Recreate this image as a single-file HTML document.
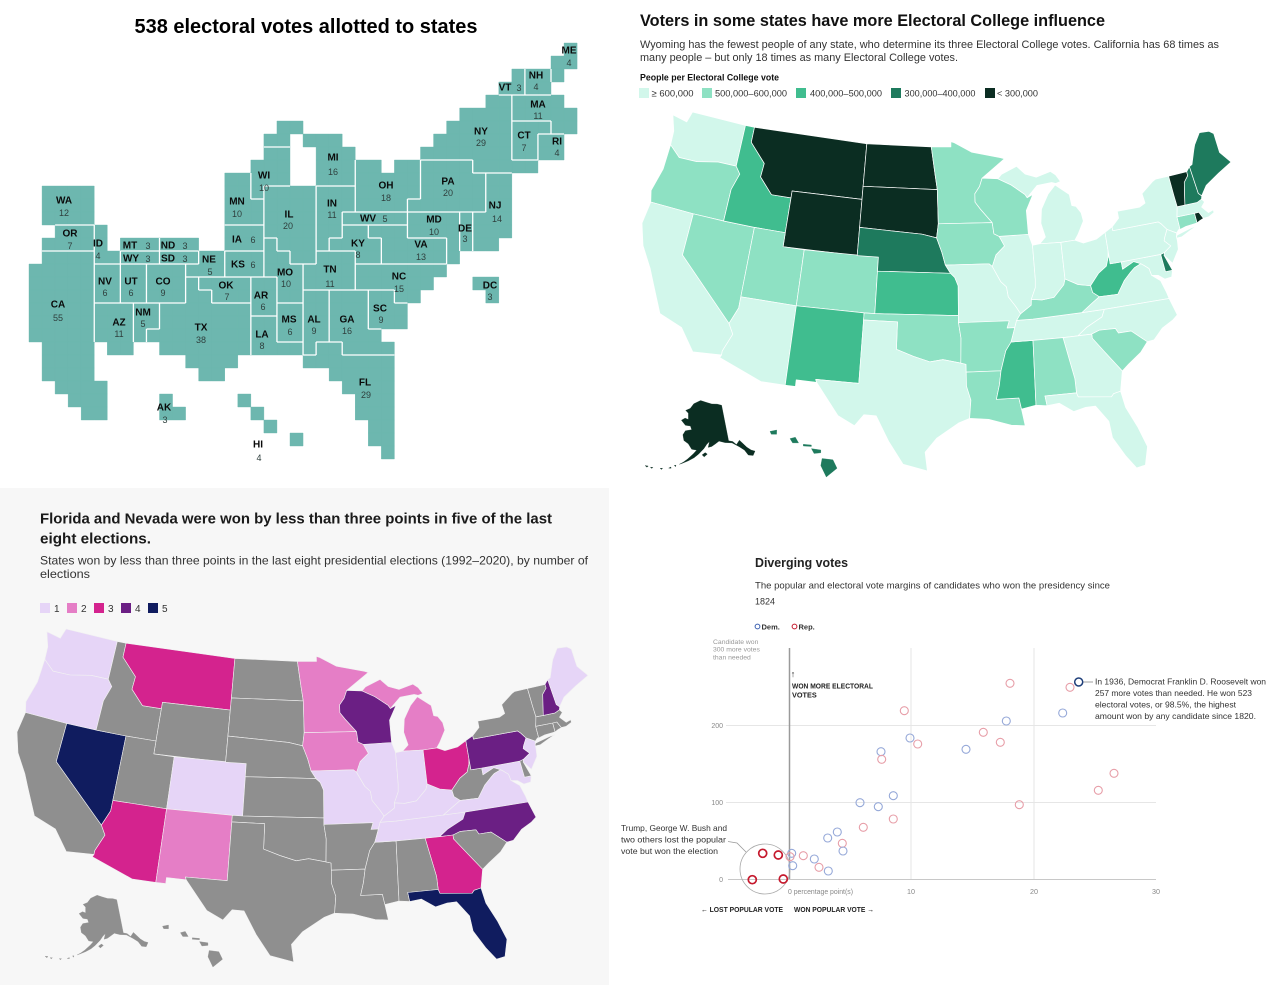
<!DOCTYPE html>
<html><head><meta charset="utf-8"><style>
html,body{margin:0;padding:0;background:#fff;}
svg{display:block;font-family:"Liberation Sans",Arial,sans-serif;}
</style></head><body>
<svg id="root" xmlns="http://www.w3.org/2000/svg" width="1280" height="985" viewBox="0 0 1280 985">
<rect width="1280" height="985" fill="#ffffff"/>
<rect x="0" y="488" width="609" height="497" fill="#f7f7f7"/>

<!-- Top-left cartogram -->
<text x="306" y="33" text-anchor="middle" font-weight="bold" font-size="20" fill="#000" textLength="343" lengthAdjust="spacingAndGlyphs">538 electoral votes allotted to states</text>
<g id="cg"></g>
<g id="cglab" font-size="10" text-anchor="middle" dominant-baseline="central"></g>

<!-- Top-right map -->
<text x="640" y="26" font-weight="bold" font-size="17" fill="#111" textLength="465" lengthAdjust="spacingAndGlyphs">Voters in some states have more Electoral College influence</text>
<text x="640" y="48" font-size="11" fill="#333" textLength="579" lengthAdjust="spacingAndGlyphs">Wyoming has the fewest people of any state, who determine its three Electoral College votes. California has 68 times as</text>
<text x="640" y="61" font-size="11" fill="#333" textLength="318" lengthAdjust="spacingAndGlyphs">many people – but only 18 times as many Electoral College votes.</text>
<text x="640" y="80.5" font-size="9" font-weight="bold" fill="#111" textLength="139" lengthAdjust="spacingAndGlyphs">People per Electoral College vote</text>
<g font-size="9.5" fill="#333">
<rect x="639" y="88" width="10" height="10" fill="#d2f7eb"/><text x="651.5" y="96.5" textLength="42" lengthAdjust="spacingAndGlyphs">≥ 600,000</text>
<rect x="702" y="88" width="10" height="10" fill="#8ee1c3"/><text x="715" y="96.5" textLength="72" lengthAdjust="spacingAndGlyphs">500,000–600,000</text>
<rect x="796" y="88" width="10" height="10" fill="#40bd8f"/><text x="810" y="96.5" textLength="72" lengthAdjust="spacingAndGlyphs">400,000–500,000</text>
<rect x="891" y="88" width="10" height="10" fill="#1e7a5d"/><text x="904.5" y="96.5" textLength="71" lengthAdjust="spacingAndGlyphs">300,000–400,000</text>
<rect x="985" y="88" width="10" height="10" fill="#0b2d22"/><text x="997" y="96.5" textLength="41" lengthAdjust="spacingAndGlyphs">&lt; 300,000</text>
</g>
<g id="map1"></g>

<!-- Bottom-left map -->
<text x="40" y="523.5" font-weight="bold" font-size="15" fill="#1a1a1a" textLength="512" lengthAdjust="spacingAndGlyphs">Florida and Nevada were won by less than three points in five of the last</text>
<text x="40" y="543.5" font-weight="bold" font-size="15" fill="#1a1a1a" textLength="111" lengthAdjust="spacingAndGlyphs">eight elections.</text>
<text x="40" y="564.5" font-size="12" fill="#333" textLength="548" lengthAdjust="spacingAndGlyphs">States won by less than three points in the last eight presidential elections (1992–2020), by number of</text>
<text x="40" y="578" font-size="12" fill="#333" textLength="50" lengthAdjust="spacingAndGlyphs">elections</text>
<g font-size="10" fill="#333">
<rect x="40" y="603" width="10" height="10" fill="#e6d5f7"/><text x="54" y="612">1</text>
<rect x="67" y="603" width="10" height="10" fill="#e57ec6"/><text x="81" y="612">2</text>
<rect x="94" y="603" width="10" height="10" fill="#d4238e"/><text x="108" y="612">3</text>
<rect x="121" y="603" width="10" height="10" fill="#6b1f84"/><text x="135" y="612">4</text>
<rect x="148" y="603" width="10" height="10" fill="#101c5f"/><text x="162" y="612">5</text>
</g>
<g id="map2"></g>

<!-- Bottom-right scatter -->
<text x="755" y="567" font-weight="bold" font-size="13" fill="#222" textLength="93" lengthAdjust="spacingAndGlyphs">Diverging votes</text>
<text x="755" y="588.5" font-size="9.5" fill="#333" textLength="355" lengthAdjust="spacingAndGlyphs">The popular and electoral vote margins of candidates who won the presidency since</text>
<text x="755" y="604.5" font-size="9.5" fill="#333" textLength="20" lengthAdjust="spacingAndGlyphs">1824</text>
<circle cx="757.5" cy="626.5" r="2.4" fill="none" stroke="#3a5fb0" stroke-width="1"/>
<text x="761.5" y="629.5" font-size="7.5" font-weight="bold" fill="#333">Dem.</text>
<circle cx="794.5" cy="626.5" r="2.4" fill="none" stroke="#c5192d" stroke-width="1"/>
<text x="798.5" y="629.5" font-size="7.5" font-weight="bold" fill="#333">Rep.</text>

<text x="713" y="644" font-size="6.8" fill="#999">Candidate won</text>
<text x="713" y="651.5" font-size="6.8" fill="#999">300 more votes</text>
<text x="713" y="659.5" font-size="6.8" fill="#999">than needed</text>

<g stroke="#e6e6e6" stroke-width="1">
<line x1="726" y1="725.5" x2="1156" y2="725.5"/>
<line x1="726" y1="802.5" x2="1156" y2="802.5"/>
<line x1="911" y1="648" x2="911" y2="879"/>
<line x1="1034" y1="648" x2="1034" y2="879"/>
</g>
<line x1="728" y1="879.5" x2="1156" y2="879.5" stroke="#c8c8c8" stroke-width="1"/>
<line x1="789.5" y1="648" x2="789.5" y2="879" stroke="#9a9a9a" stroke-width="1.5"/>
<g font-size="7" fill="#888" text-anchor="end">
<text x="723" y="728">200</text><text x="723" y="805">100</text><text x="723" y="882">0</text>
</g>
<g font-size="7.2" fill="#888">
<text x="788" y="894" textLength="65" lengthAdjust="spacingAndGlyphs">0 percentage point(s)</text>
<text x="911" y="894" text-anchor="middle">10</text>
<text x="1034" y="894" text-anchor="middle">20</text>
<text x="1156" y="894" text-anchor="middle">30</text>
</g>
<text x="793" y="677" font-size="9" font-weight="bold" fill="#222" text-anchor="middle">↑</text>
<text x="792" y="688.5" font-size="7.3" font-weight="bold" fill="#222" textLength="81" lengthAdjust="spacingAndGlyphs">WON MORE ELECTORAL</text>
<text x="792" y="697.5" font-size="7.3" font-weight="bold" fill="#222">VOTES</text>
<text x="701" y="912" font-size="7.3" font-weight="bold" fill="#222" textLength="82" lengthAdjust="spacingAndGlyphs">← LOST POPULAR VOTE</text>
<text x="794" y="912" font-size="7.3" font-weight="bold" fill="#222" textLength="80" lengthAdjust="spacingAndGlyphs">WON POPULAR VOTE →</text>

<g font-size="8.3" fill="#333">
<text x="621" y="831" textLength="106" lengthAdjust="spacingAndGlyphs">Trump, George W. Bush and</text>
<text x="621" y="842.5" textLength="105" lengthAdjust="spacingAndGlyphs">two others lost the popular</text>
<text x="621" y="854" textLength="97" lengthAdjust="spacingAndGlyphs">vote but won the election</text>
<text x="1095" y="684.5" textLength="171" lengthAdjust="spacingAndGlyphs">In 1936, Democrat Franklin D. Roosevelt won</text>
<text x="1095" y="696" textLength="157" lengthAdjust="spacingAndGlyphs">257 more votes than needed. He won 523</text>
<text x="1095" y="707.5" textLength="141" lengthAdjust="spacingAndGlyphs">electoral votes, or 98.5%, the highest</text>
<text x="1095" y="719" textLength="161" lengthAdjust="spacingAndGlyphs">amount won by any candidate since 1820.</text>
</g>
<polyline points="728,841.5 737,843 746,852" fill="none" stroke="#999" stroke-width="0.8"/>
<circle cx="765" cy="869" r="25" fill="none" stroke="#aaa" stroke-width="0.8"/>
<line x1="1083" y1="682" x2="1093" y2="682" stroke="#888" stroke-width="0.8"/>
<g id="pts" fill="none"></g>
</svg>

<script>
(function(){
var NS="http://www.w3.org/2000/svg";
function el(tag,attrs,parent){var e=document.createElementNS(NS,tag);for(var k in attrs)e.setAttribute(k,attrs[k]);parent.appendChild(e);return e;}

/* ---------- cartogram ---------- */
var CG={
ME:[[0,41,41],[1,40,41],[2,40,40]],
NH:[[2,38,39],[3,38,39]],
VT:[[2,37,37],[3,36,37]],
MA:[[4,37,40],[5,37,41],[6,40,41]],
CT:[[6,37,39],[7,37,38],[8,37,38]],
RI:[[7,39,40],[8,39,40]],
NY:[[4,35,36],[5,33,36],[6,32,36],[7,31,36],[8,30,36],[9,34,38]],
PA:[[9,30,33],[10,30,34],[11,30,34],[12,29,34]],
NJ:[[10,35,36],[11,35,36],[12,35,36],[13,34,36],[14,34,36],[15,34,35]],
DE:[[13,33,33],[14,33,33],[15,33,33]],
MD:[[13,29,32],[14,29,32],[15,32,32],[16,32,32]],
VA:[[14,26,28],[15,27,31],[16,27,31]],
WV:[[13,24,28]],
OH:[[9,25,26],[9,28,29],[10,25,29],[11,25,29],[12,25,28]],
KY:[[14,24,25],[15,23,26],[16,25,26]],
MI:[[6,19,20],[7,18,19],[7,21,23],[8,22,24],[9,22,24],[10,22,24]],
WI:[[8,18,19],[9,17,19],[10,17,19],[11,17,17]],
MN:[[10,15,16],[11,15,16],[12,15,17],[13,15,17]],
IA:[[14,15,17],[15,15,17]],
IL:[[11,18,21],[12,18,21],[13,18,21],[14,18,21],[15,19,21],[16,20,21]],
IN:[[11,22,24],[12,22,24],[13,22,23],[14,22,23],[15,22,22]],
MO:[[15,18,18],[16,18,19],[17,18,20],[18,19,20],[19,19,20]],
TN:[[16,22,24],[17,21,24],[18,21,24]],
NC:[[17,25,31],[18,25,30],[19,28,29]],
SC:[[19,26,27],[20,26,28],[21,26,28]],
GA:[[19,23,25],[20,23,25],[21,23,25],[22,23,26],[23,24,27]],
AL:[[19,21,22],[20,21,22],[21,21,22],[22,21,22],[23,21,21]],
MS:[[20,19,20],[21,19,20],[22,19,20]],
LA:[[21,17,18],[22,17,18],[23,17,20]],
AR:[[18,17,18],[19,17,18],[20,17,18]],
FL:[[23,22,23],[24,21,27],[25,23,27],[26,24,27],[27,25,27],[28,25,27],[29,26,27],[30,26,27],[31,27,27]],
TX:[[18,12,12],[19,12,13],[20,10,16],[21,10,16],[22,9,16],[23,10,16],[24,12,15],[25,13,14]],
OK:[[18,13,16],[19,14,16]],
KS:[[16,15,17],[17,15,17]],
NE:[[16,13,14],[17,12,14]],
SD:[[16,10,12]],ND:[[15,10,12]],WY:[[16,7,9]],MT:[[15,7,9]],
ID:[[14,5,5],[15,5,5],[16,5,6]],
WA:[[11,1,4],[12,1,4],[13,1,4]],
OR:[[14,2,4],[15,1,4]],
CA:[[16,1,4],[17,0,4],[18,0,4],[19,0,4],[20,0,4],[21,0,4],[22,0,4],[23,1,4],[24,1,4],[25,1,4],[26,2,5],[27,3,5],[28,4,5]],
NV:[[17,5,6],[18,5,6],[19,5,6]],
UT:[[17,7,8],[18,7,8],[19,7,8]],
CO:[[17,9,11],[18,9,11],[19,9,11]],
AZ:[[20,5,7],[21,5,7],[22,5,7],[23,6,7]],
NM:[[20,8,9],[21,8,9],[22,8,8]],
AK:[[27,10,10],[28,10,11]],
HI1:[[27,16,16]],HI2:[[28,17,17]],HI3:[[29,18,18]],HI4:[[30,20,20]],
DC:[[18,34,35],[19,35,35]]
};
var grid={};
for(var s in CG){CG[s].forEach(function(a){for(var c=a[1];c<=a[2];c++)grid[a[0]+','+c]=s;});}
var X0=29,Y0=43,SX=13.05,SY=13;
var cg=document.getElementById('cg');
var d='';
for(var k in grid){var p=k.split(',');var r=+p[0],c=+p[1];
 d+='M'+(X0+c*SX).toFixed(2)+','+(Y0+r*SY).toFixed(2)+'h'+SX+'v'+SY+'h'+(-SX)+'z';}
el('path',{d:d,fill:'#6db7af',stroke:'#6db7af','stroke-width':'0.4'},cg);
var bd='';
for(var k2 in grid){var q=k2.split(',');var r2=+q[0],c2=+q[1];var st=grid[k2];
 var rn=grid[r2+','+(c2+1)];if(rn&&rn!==st){var x=X0+(c2+1)*SX;bd+='M'+x.toFixed(2)+','+(Y0+r2*SY).toFixed(2)+'v'+SY;}
 var dn=grid[(r2+1)+','+c2];if(dn&&dn!==st){var y=Y0+(r2+1)*SY;bd+='M'+(X0+c2*SX).toFixed(2)+','+y.toFixed(2)+'h'+SX;}
}
el('path',{d:bd,fill:'none',stroke:'#ffffff','stroke-width':'1.3'},cg);

var LB=[
['WA',64,201,'12',64,213],['OR',70,234,'7',70,246],['ID',98,244,'4',98,256],
['MT',130,246,'3',148,246],['WY',131,259,'3',148,259],['ND',168,246,'3',185,246],
['SD',168,259,'3',185,259],['NE',209,260,'5',210,272],['CA',58,305,'55',58,318],
['NV',105,282,'6',105,293],['UT',131,282,'6',131,293],['CO',163,282,'9',163,293],
['AZ',119,323,'11',119,334],['NM',143,313,'5',143,324],['TX',201,328,'38',201,340],
['OK',226,286,'7',227,297],['KS',238,265,'6',253,265],['IA',237,240,'6',253,240],
['MN',237,202,'10',237,214],['WI',264,176,'10',264,188],['IL',289,215,'20',288,226],
['MI',333,158,'16',333,172],['IN',332,204,'11',332,215],['OH',386,186,'18',386,198],
['PA',448,182,'20',448,193],['NY',481,132,'29',481,143],['NJ',495,206,'14',497,219],
['MD',434,220,'10',434,232],['DE',465,229,'3',465,239],['WV',368,219,'5',385,219],
['VA',421,245,'13',421,257],['KY',358,244,'8',358,255],['TN',330,270,'11',330,284],
['NC',399,277,'15',399,289],['SC',380,309,'9',381,320],['GA',347,320,'16',347,331],
['AL',314,320,'9',314,331],['MS',289,320,'6',290,332],['LA',262,335,'8',262,346],
['AR',261,296,'6',263,307],['MO',285,273,'10',286,284],['FL',365,383,'29',366,395],
['AK',164,408,'3',165,420],['HI',258,445,'4',259,458],['DC',490,286,'3',490,297],
['VT',505,88,'3',519,88],['NH',536,76,'4',536,87],['ME',569,51,'4',569,63],
['MA',538,105,'11',538,116],['CT',524,136,'7',524,148],['RI',557,142,'4',557,153]];
var lg=document.getElementById('cglab');
LB.forEach(function(l){
 var t=el('text',{x:l[1],y:l[2],'font-weight':'bold','font-size':'10',fill:'#0a0a0a'},lg);t.textContent=l[0];
 var n=el('text',{x:l[4],y:l[5],'font-size':'9',fill:'#2f3f3d'},lg);n.textContent=l[3];
});

/* ---------- US maps ---------- */
var ST={
WA:[[[-124.7,48.4],[-123.1,48.2],[-122.8,49.0],[-117.03,49.0],[-117.03,46.0],[-118.9,46.0],[-121.0,45.65],[-122.8,45.6],[-124.0,46.3],[-124.1,47.3]]],
OR:[[[-124.0,46.3],[-122.8,45.6],[-121.0,45.65],[-118.9,46.0],[-117.03,46.0],[-116.5,45.5],[-117.0,44.3],[-117.03,42.0],[-120.0,42.0],[-124.2,42.0],[-124.5,42.8],[-124.0,44.5]]],
CA:[[[-124.2,42.0],[-120.0,42.0],[-120.0,39.0],[-114.6,35.0],[-114.1,34.3],[-114.7,33.0],[-114.7,32.7],[-117.1,32.5],[-118.5,34.0],[-120.6,34.6],[-121.9,36.6],[-122.5,37.5],[-123.7,38.9],[-124.4,40.4]]],
NV:[[[-120.0,42.0],[-117.03,42.0],[-114.04,42.0],[-114.04,36.2],[-114.6,35.0],[-120.0,39.0]]],
ID:[[[-117.03,49.0],[-116.05,49.0],[-116.05,47.9],[-114.3,46.6],[-114.4,45.6],[-113.0,44.5],[-111.05,44.5],[-111.05,42.0],[-114.04,42.0],[-117.03,42.0],[-117.0,44.3],[-116.5,45.5],[-117.03,46.0]]],
MT:[[[-116.05,49.0],[-104.05,49.0],[-104.05,45.0],[-111.05,45.0],[-111.05,44.5],[-113.0,44.5],[-114.4,45.6],[-114.3,46.6],[-116.05,47.9]]],
WY:[[[-111.05,45.0],[-104.05,45.0],[-104.05,43.0],[-104.05,41.0],[-111.05,41.0],[-111.05,42.0],[-111.05,44.5]]],
UT:[[[-114.04,42.0],[-111.05,42.0],[-111.05,41.0],[-109.05,41.0],[-109.05,37.0],[-114.04,37.0]]],
AZ:[[[-114.04,37.0],[-109.05,37.0],[-109.05,31.33],[-111.07,31.33],[-114.8,32.5],[-114.7,32.7],[-114.7,33.0],[-114.1,34.3],[-114.6,35.0],[-114.04,36.2]]],
CO:[[[-109.05,41.0],[-102.05,41.0],[-102.05,40.0],[-102.05,37.0],[-103.0,37.0],[-109.05,37.0]]],
NM:[[[-109.05,37.0],[-103.0,37.0],[-103.0,36.5],[-103.0,32.0],[-106.6,32.0],[-106.5,31.8],[-108.2,31.8],[-108.2,31.33],[-109.05,31.33]]],
ND:[[[-104.05,49.0],[-97.23,49.0],[-96.8,47.0],[-96.56,45.94],[-104.05,45.94]]],
SD:[[[-104.05,45.94],[-96.56,45.94],[-96.45,43.5],[-96.6,42.5],[-98.0,42.75],[-104.05,43.0]]],
NE:[[[-104.05,43.0],[-98.0,42.75],[-96.6,42.5],[-96.1,41.5],[-95.77,40.58],[-95.3,40.0],[-102.05,40.0],[-102.05,41.0],[-104.05,41.0]]],
KS:[[[-102.05,40.0],[-95.3,40.0],[-94.9,39.7],[-94.6,39.1],[-94.62,37.0],[-102.05,37.0]]],
OK:[[[-103.0,37.0],[-102.05,37.0],[-94.62,37.0],[-94.62,36.5],[-94.43,35.4],[-94.48,33.64],[-96.0,33.9],[-97.1,33.73],[-98.5,34.1],[-100.0,34.56],[-100.0,36.5],[-103.0,36.5]]],
TX:[[[-103.0,36.5],[-100.0,36.5],[-100.0,34.56],[-98.5,34.1],[-97.1,33.73],[-96.0,33.9],[-94.48,33.64],[-94.04,33.55],[-94.04,33.0],[-94.04,32.0],[-93.7,31.0],[-93.84,29.7],[-94.7,29.4],[-96.5,28.3],[-97.4,27.3],[-97.2,25.95],[-99.1,26.4],[-100.3,28.0],[-101.4,29.77],[-102.4,29.8],[-103.1,28.97],[-104.5,29.6],[-106.5,31.8],[-106.6,32.0],[-103.0,32.0]]],
MN:[[[-97.23,49.0],[-95.15,49.0],[-95.15,49.38],[-94.8,49.3],[-93.0,48.6],[-90.0,48.1],[-89.6,48.0],[-92.0,46.7],[-92.3,46.1],[-92.8,45.6],[-92.8,45.0],[-92.3,44.5],[-91.2,43.5],[-96.45,43.5],[-96.56,45.94],[-96.8,47.0]]],
IA:[[[-96.45,43.5],[-91.2,43.5],[-91.1,42.7],[-90.6,42.5],[-90.15,41.8],[-91.0,41.2],[-91.4,40.4],[-91.7,40.6],[-95.77,40.58],[-96.1,41.5],[-96.6,42.5]]],
MO:[[[-95.77,40.58],[-91.7,40.6],[-91.4,40.4],[-90.7,39.3],[-90.2,38.9],[-90.1,38.2],[-89.5,37.5],[-89.1,36.95],[-89.5,36.5],[-89.7,36.0],[-90.37,36.0],[-90.15,36.5],[-94.62,36.5],[-94.62,37.0],[-94.6,39.1],[-94.9,39.7],[-95.3,40.0]]],
AR:[[[-94.62,36.5],[-90.15,36.5],[-90.37,36.0],[-89.7,36.0],[-90.1,35.0],[-90.6,34.4],[-91.1,33.0],[-94.04,33.0],[-94.04,33.55],[-94.48,33.64],[-94.43,35.4]]],
LA:[[[-94.04,33.0],[-91.1,33.0],[-91.3,32.0],[-91.6,31.0],[-89.75,31.0],[-89.6,30.2],[-89.4,29.0],[-90.5,29.1],[-92.3,29.6],[-93.84,29.7],[-93.7,31.0],[-94.04,32.0]]],
MS:[[[-90.1,35.0],[-88.2,35.0],[-88.4,30.4],[-89.6,30.2],[-89.75,31.0],[-91.6,31.0],[-91.3,32.0],[-91.1,33.0],[-90.6,34.4]]],
TN:[[[-89.7,36.0],[-89.5,36.5],[-88.05,36.5],[-83.7,36.6],[-81.7,36.6],[-82.0,36.1],[-83.5,35.5],[-84.3,35.0],[-85.6,35.0],[-88.2,35.0],[-90.1,35.0]]],
KY:[[[-84.82,39.1],[-83.7,38.6],[-82.6,38.4],[-82.5,37.9],[-81.97,37.54],[-82.7,37.15],[-83.7,36.6],[-88.05,36.5],[-89.5,36.5],[-89.1,36.95],[-88.1,37.5],[-88.05,37.9],[-87.1,37.8],[-86.0,37.9],[-85.0,38.7]]],
IL:[[[-90.6,42.5],[-87.8,42.5],[-87.5,41.7],[-87.53,39.3],[-87.6,38.7],[-88.05,37.9],[-88.1,37.5],[-89.1,36.95],[-89.5,37.5],[-90.1,38.2],[-90.2,38.9],[-90.7,39.3],[-91.4,40.4],[-91.0,41.2],[-90.15,41.8]]],
WI:[[[-92.0,46.7],[-90.4,46.6],[-89.1,46.1],[-87.8,45.35],[-87.6,45.1],[-87.0,45.3],[-87.8,44.2],[-87.8,42.5],[-90.6,42.5],[-91.1,42.7],[-91.2,43.5],[-92.3,44.5],[-92.8,45.0],[-92.8,45.6],[-92.3,46.1]]],
MI:[[[-90.4,46.6],[-89.1,46.1],[-87.8,45.35],[-87.6,45.1],[-86.5,45.9],[-85.0,46.0],[-84.6,45.9],[-84.1,46.0],[-84.5,46.5],[-85.0,46.8],[-86.5,46.5],[-87.6,46.8],[-88.4,47.4],[-90.0,46.9]],
    [[-86.8,41.76],[-84.8,41.7],[-83.45,41.73],[-83.1,42.1],[-82.4,43.0],[-82.5,43.6],[-82.9,44.1],[-83.3,44.2],[-83.4,45.0],[-84.7,45.8],[-85.5,45.2],[-86.3,44.2],[-86.5,43.2],[-86.2,42.2]]],
IN:[[[-87.5,41.7],[-86.8,41.76],[-84.8,41.7],[-84.82,39.1],[-85.0,38.7],[-86.0,37.9],[-87.1,37.8],[-88.05,37.9],[-87.6,38.7],[-87.53,39.3]]],
OH:[[[-84.8,41.7],[-83.45,41.73],[-82.7,41.45],[-81.4,41.6],[-80.52,41.98],[-80.52,40.64],[-80.6,40.2],[-80.9,39.6],[-81.7,39.2],[-82.6,38.4],[-83.7,38.6],[-84.82,39.1]]],
WV:[[[-80.52,40.64],[-80.52,39.72],[-79.48,39.72],[-79.48,39.2],[-78.35,39.6],[-77.75,39.35],[-78.4,39.15],[-78.8,38.9],[-79.5,38.4],[-80.3,37.5],[-81.97,37.54],[-82.5,37.9],[-82.6,38.4],[-81.7,39.2],[-80.9,39.6],[-80.6,40.2]]],
VA:[[[-83.7,36.6],[-81.7,36.6],[-75.9,36.55],[-76.0,37.0],[-76.3,37.9],[-77.0,38.4],[-77.1,38.9],[-77.5,39.2],[-77.75,39.35],[-78.4,39.15],[-78.8,38.9],[-79.5,38.4],[-80.3,37.5],[-81.97,37.54],[-82.7,37.15]]],
MD:[[[-79.48,39.72],[-75.79,39.72],[-75.7,38.45],[-75.05,38.45],[-75.25,38.0],[-75.9,37.95],[-76.4,38.3],[-77.0,38.4],[-77.1,38.9],[-77.5,39.2],[-77.75,39.35],[-78.35,39.6],[-79.48,39.2]]],
DE:[[[-75.79,39.72],[-75.4,39.8],[-75.5,39.6],[-75.05,38.45],[-75.7,38.45]]],
PA:[[[-80.52,41.98],[-79.76,42.27],[-79.76,42.0],[-75.35,42.0],[-75.1,41.8],[-74.7,41.35],[-75.1,40.8],[-75.2,40.6],[-74.7,40.15],[-75.4,39.8],[-75.79,39.72],[-79.48,39.72],[-80.52,39.72],[-80.52,40.64]]],
NY:[[[-79.76,42.0],[-79.76,42.27],[-79.0,42.8],[-79.0,43.3],[-76.8,43.3],[-76.2,43.5],[-76.3,44.2],[-75.0,44.9],[-74.7,45.0],[-73.35,45.0],[-73.3,43.6],[-73.25,42.75],[-73.5,42.05],[-73.5,41.2],[-73.7,41.1],[-73.9,40.95],[-74.7,41.35],[-75.1,41.8],[-75.35,42.0]],
    [[-74.05,40.6],[-73.9,40.8],[-72.5,41.05],[-71.9,41.1],[-72.6,40.9],[-73.5,40.6]]],
NJ:[[[-74.7,41.35],[-73.9,40.95],[-74.0,40.7],[-74.0,40.4],[-74.1,39.8],[-74.9,38.93],[-75.5,39.6],[-75.4,39.8],[-74.7,40.15],[-75.2,40.6],[-75.1,40.8]]],
CT:[[[-73.7,41.1],[-73.5,41.2],[-73.5,42.05],[-71.8,42.0],[-71.8,41.3],[-72.9,41.25]]],
RI:[[[-71.8,42.0],[-71.38,42.0],[-71.1,41.5],[-71.5,41.4],[-71.8,41.3]]],
MA:[[[-73.5,42.05],[-73.25,42.75],[-72.5,42.73],[-71.3,42.7],[-70.8,42.85],[-70.6,42.6],[-71.0,42.3],[-70.5,41.8],[-70.0,41.9],[-70.0,41.7],[-70.6,41.5],[-71.1,41.5],[-71.38,42.0],[-71.8,42.0]]],
VT:[[[-73.35,45.0],[-71.5,45.0],[-71.5,44.7],[-72.0,44.3],[-72.5,42.73],[-73.25,42.75],[-73.3,43.6]]],
NH:[[[-71.5,45.0],[-71.1,45.3],[-70.95,43.3],[-70.7,43.07],[-70.8,42.85],[-71.3,42.7],[-72.5,42.73],[-72.0,44.3],[-71.5,44.7]]],
ME:[[[-71.1,45.3],[-70.8,45.4],[-70.2,46.4],[-70.0,46.7],[-69.2,47.45],[-68.2,47.35],[-67.8,47.1],[-67.8,45.7],[-67.0,44.8],[-68.5,44.3],[-70.0,43.7],[-70.7,43.07],[-70.95,43.3]]],
NC:[[[-84.3,35.0],[-83.1,35.0],[-82.4,35.2],[-81.0,35.15],[-80.8,34.8],[-79.7,34.8],[-78.5,33.85],[-77.9,33.9],[-77.0,34.6],[-76.0,35.0],[-75.5,35.3],[-75.9,36.55],[-81.7,36.6],[-82.0,36.1],[-83.5,35.5]]],
SC:[[[-83.1,35.0],[-82.4,35.2],[-81.0,35.15],[-80.8,34.8],[-79.7,34.8],[-78.5,33.85],[-79.2,33.2],[-80.4,32.5],[-81.0,32.1],[-82.2,33.6],[-83.1,34.7]]],
GA:[[[-85.6,35.0],[-84.3,35.0],[-83.1,35.0],[-83.1,34.7],[-82.2,33.6],[-81.0,32.1],[-81.4,30.7],[-82.0,30.6],[-82.2,30.4],[-84.9,30.7],[-85.0,31.0],[-85.0,32.0]]],
AL:[[[-88.2,35.0],[-85.6,35.0],[-85.0,32.0],[-85.0,31.0],[-87.6,31.0],[-87.5,30.3],[-88.4,30.4]]],
FL:[[[-87.6,31.0],[-85.0,31.0],[-84.9,30.7],[-82.2,30.4],[-82.0,30.6],[-81.4,30.7],[-81.2,29.5],[-80.5,28.0],[-80.0,26.5],[-80.4,25.2],[-81.1,25.1],[-81.8,26.1],[-82.6,27.5],[-82.7,28.7],[-83.6,29.9],[-84.4,29.9],[-85.4,29.7],[-86.5,30.4],[-87.5,30.3]]]
};
var AK=[
[[-141,69.6],[-141,60.3],[-139,59.9],[-137.5,58.9],[-135.5,59.8],[-133,57.5],[-131.5,56.5],[-130,55.9],[-131.5,55.0],[-133.5,55.5],[-134.5,57],[-136.5,58.2],[-139.5,59.6],[-143,60],[-146,60.6],[-148,60],[-150,59.4],[-151.8,59.2],[-151,60.7],[-152.5,60],[-154,58.9],[-156.5,57.5],[-158.5,56.5],[-161,55.6],[-163.5,54.8],[-164.8,54.4],[-163.2,55.1],[-161.5,56.0],[-159,57.5],[-157.5,58.5],[-160,58.6],[-162,59.9],[-164.5,60.6],[-165.5,62],[-164.5,63.1],[-161,63.6],[-162,64.5],[-165,64.5],[-168,65.6],[-166,66.3],[-163.8,66.1],[-164.4,67.7],[-166.5,68.3],[-163.6,69.0],[-161.5,70.3],[-156.5,71.3],[-152,70.8],[-148,70.3],[-144,70.1]],
[[-154.8,57.3],[-153.3,57.9],[-152.3,57.5],[-153.8,56.8]],
[[-166.9,53.9],[-166.2,54.0],[-166.3,53.6]],
[[-169.0,52.9],[-168.2,53.3],[-168.0,53.0]],
[[-172.5,52.3],[-171.5,52.5],[-171.8,52.1]],
[[-176.5,51.8],[-175.5,52.0],[-175.8,51.6]],
[[-178.8,51.7],[-177.5,51.9],[-177.8,51.5]]
];
var HI=[
[[-155.9,20.2],[-155.1,20.1],[-154.8,19.5],[-155.6,18.9],[-156.0,19.7]],
[[-156.7,20.9],[-156.0,20.8],[-156.0,20.6],[-156.5,20.55]],
[[-157.3,21.2],[-156.7,21.15],[-156.7,21.05],[-157.3,21.08]],
[[-158.3,21.6],[-157.9,21.7],[-157.65,21.3],[-158.1,21.3]],
[[-159.8,22.1],[-159.3,22.2],[-159.3,21.9],[-159.7,21.9]]
];
function conic(lon0,p1,p2){var R=Math.PI/180,s1=Math.sin(p1*R),s2=Math.sin(p2*R),n=(s1+s2)/2,C=Math.cos(p1*R)*Math.cos(p1*R)+2*n*s1;
 return function(lon,lat){var rho=Math.sqrt(C-2*n*Math.sin(lat*R))/n,th=n*(lon-lon0)*R;return [rho*Math.sin(th),rho*Math.cos(th)];};}
function bounds(rings,pr){var b=[1e9,1e9,-1e9,-1e9];rings.forEach(function(r){r.forEach(function(p){var q=pr(p[0],p[1]);if(q[0]<b[0])b[0]=q[0];if(q[1]<b[1])b[1]=q[1];if(q[0]>b[2])b[2]=q[0];if(q[1]>b[3])b[3]=q[1];});});return b;}
function ringsPath(rings,pr,tf){var d='';rings.forEach(function(r){d+='M'+r.map(function(p){var q=tf(pr(p[0],p[1]));return q[0].toFixed(1)+','+q[1].toFixed(1);}).join('L')+'Z';});return d;}
function uniformTf(b,box){var sx=(box[2]-box[0])/(b[2]-b[0]),sy=(box[3]-box[1])/(b[3]-b[1]);var s=Math.min(sx,sy);
 var ox=box[0]+((box[2]-box[0])-(b[2]-b[0])*s)/2,oy=box[1]+((box[3]-box[1])-(b[3]-b[1])*s)/2;
 return function(q){return [ox+(q[0]-b[0])*s,oy+(q[1]-b[1])*s];};}
function drawMap(gid,box,colorOf,stroke,sw,akBox,akCol,hiBox,hiCol){
 var g=document.getElementById(gid);
 var pr=conic(-96,29.5,45.5);
 var all=[];for(var s in ST)ST[s].forEach(function(r){all.push(r);});
 var b=bounds(all,pr);
 var sx=(box[2]-box[0])/(b[2]-b[0]),sy=(box[3]-box[1])/(b[3]-b[1]);
 var tf=function(q){return [box[0]+(q[0]-b[0])*sx,box[1]+(q[1]-b[1])*sy];};
 for(var s2 in ST){el('path',{d:ringsPath(ST[s2],pr,tf),fill:colorOf(s2),stroke:stroke,'stroke-width':sw,'stroke-linejoin':'round'},g);}
 var pa=conic(-154,55,65);var ba=bounds(AK,pa);
 el('path',{d:ringsPath(AK,pa,uniformTf(ba,akBox)),fill:akCol,stroke:akCol,'stroke-width':'0.3'},g);
 var ph=conic(-157,8,18);var bh=bounds(HI,ph);
 el('path',{d:ringsPath(HI,ph,uniformTf(bh,hiBox)),fill:hiCol,stroke:hiCol,'stroke-width':'0.3'},g);
}
var P1=['#d2f7eb','#8ee1c3','#40bd8f','#1e7a5d','#0b2d22'];
var C1={WA:0,OR:1,CA:0,NV:1,ID:2,MT:4,WY:4,UT:1,AZ:0,CO:1,NM:2,ND:4,SD:4,NE:3,KS:2,OK:1,TX:0,MN:1,IA:1,MO:0,AR:1,LA:1,WI:1,IL:0,MI:0,IN:0,OH:0,KY:1,TN:0,MS:2,AL:1,GA:0,FL:0,SC:1,NC:0,VA:0,WV:2,PA:0,NY:0,NJ:0,DE:3,MD:0,CT:1,RI:4,MA:0,VT:4,NH:3,ME:3};
drawMap('map1',[642,112,1231,471],function(s){return P1[C1[s]];},'#ffffff','0.7',[645,392,755,478],P1[4],[770,430,837,477],P1[3]);
var P2={1:'#e6d5f7',2:'#e57ec6',3:'#d4238e',4:'#6b1f84',5:'#101c5f'};
var C2={WA:1,OR:1,NV:5,MT:3,AZ:3,CO:1,NM:2,MN:2,IA:2,WI:4,MI:2,OH:3,PA:4,NH:4,ME:1,MO:1,IL:1,IN:1,KY:1,TN:1,VA:1,NC:4,GA:3,FL:5,NJ:1,MD:1};
drawMap('map2',[17,629,588,962],function(s){return C2[s]?P2[C2[s]]:'#8f8f8f';},'#f2f2f2','0.6',[45,888,148,967],'#8f8f8f',[161,925,224,967],'#8f8f8f');

/* ---------- scatter points ---------- */
var PTS=[
['d',910,738],['r',917.7,744],['d',881,751.7],['r',881.7,759.3],['d',966,749.3],['r',983.3,732.3],
['d',893.3,795.7],['d',860,802.7],['d',878.3,806.7],['r',893.3,819],['r',863.3,827.3],['d',837.3,832],
['d',827.7,838],['r',842.3,843.3],['d',843,851],['d',791.7,853.3],['r',790,856.7],['r',803.3,855.7],
['d',814.3,859],['r',819,867.3],['d',828.3,871],['d',792.7,865.7],
['r',904.3,710.7],['r',1010,683.3],['r',1070,687.3],['d',1062.7,713],['d',1006.3,721],['r',1000.3,742.3],
['r',1114,773.3],['r',1098.3,790.3],['r',1019.3,804.7],
['R',762.7,853.3],['R',778.3,855],['R',752.3,879.7],['R',783.3,879],['D',1078.7,682]];
var pg=document.getElementById('pts');
var SC={d:['#95a8d8','1.1'],r:['#e79ea8','1.1'],R:['#c5192d','1.7'],D:['#1f3f7a','1.5']};
PTS.forEach(function(p){el('circle',{cx:p[1],cy:p[2],r:'4',fill:'none',stroke:SC[p[0]][0],'stroke-width':SC[p[0]][1]},pg);});
})();
</script>
</body></html>
